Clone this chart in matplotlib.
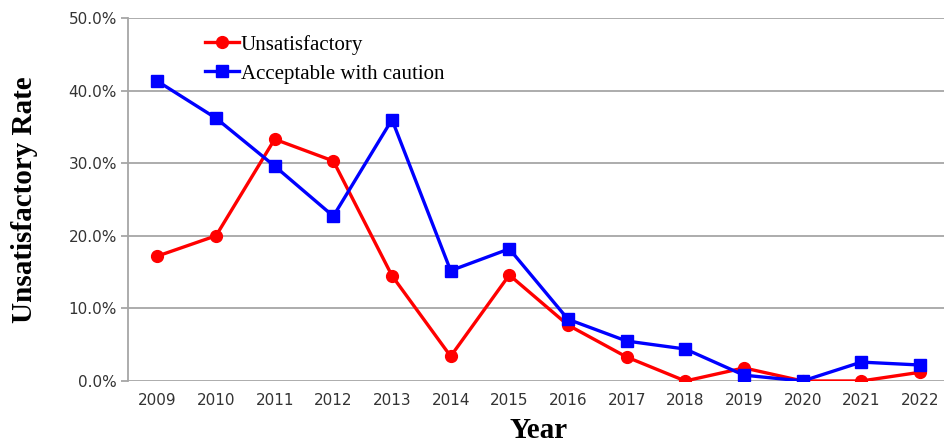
import matplotlib
matplotlib.use("Agg")
import matplotlib.pyplot as plt
from matplotlib.ticker import PercentFormatter

years = ["2009", "2010", "2011", "2012", "2013", "2014", "2015",
         "2016", "2017", "2018", "2019", "2020", "2021", "2022"]
unsatisfactory = [17.2, 20.0, 33.3, 30.3, 14.5, 3.4, 14.6,
                  7.7, 3.3, 0.0, 1.8, 0.0, 0.0, 1.2]
acceptable_caution = [41.3, 36.2, 29.6, 22.7, 36.0, 15.2, 18.2,
                      8.5, 5.5, 4.4, 0.8, 0.0, 2.6, 2.2]

fig = plt.figure(figsize=(9.44, 4.43), dpi=100)
ax = fig.add_axes([0.1356, 0.14, 0.870, 0.8194])

x = range(len(years))
ax.plot(x, unsatisfactory, color="#ff0000", lw=2.4, marker="o", ms=8.5,
        label="Unsatisfactory", zorder=3)
ax.plot(x, acceptable_caution, color="#0000ff", lw=2.4, marker="s", ms=8,
        label="Acceptable with caution", zorder=4)

ax.set_xlim(-0.5, 13.5)
ax.set_ylim(0, 50)
ax.set_yticks([0, 10, 20, 30, 40, 50])
ax.yaxis.set_major_formatter(PercentFormatter(decimals=1))
ax.set_xticks(list(x))
ax.set_xticklabels(years)

ax.grid(axis="y", color="#a6a6a6", lw=1.3)
ax.set_axisbelow(True)
for s in ["top", "right", "bottom"]:
    ax.spines[s].set_visible(False)
ax.spines["left"].set_color("#a6a6a6")
ax.spines["left"].set_linewidth(1.3)
ax.tick_params(axis="y", length=5, color="#a6a6a6", width=1.3, pad=3,
               labelsize=11, labelcolor="#333333")
ax.tick_params(axis="x", length=0, pad=9, labelsize=11, labelcolor="#333333")
for lab in ax.get_xticklabels() + ax.get_yticklabels():
    lab.set_family("DejaVu Sans")

ax.set_ylabel("Unsatisfactory Rate", family="Liberation Serif",
              fontweight="bold", fontsize=21, labelpad=22)
ax.set_xlabel("Year", family="Liberation Serif", fontweight="bold",
              fontsize=21, labelpad=6)

leg = ax.legend(loc="upper left", bbox_to_anchor=(0.074, 1.0), frameon=False,
                prop={"family": "Liberation Serif", "size": 15},
                handlelength=1.6, handletextpad=0.1, labelspacing=0.45,
                borderaxespad=0.4)

fig.savefig("out.png", dpi=100)
